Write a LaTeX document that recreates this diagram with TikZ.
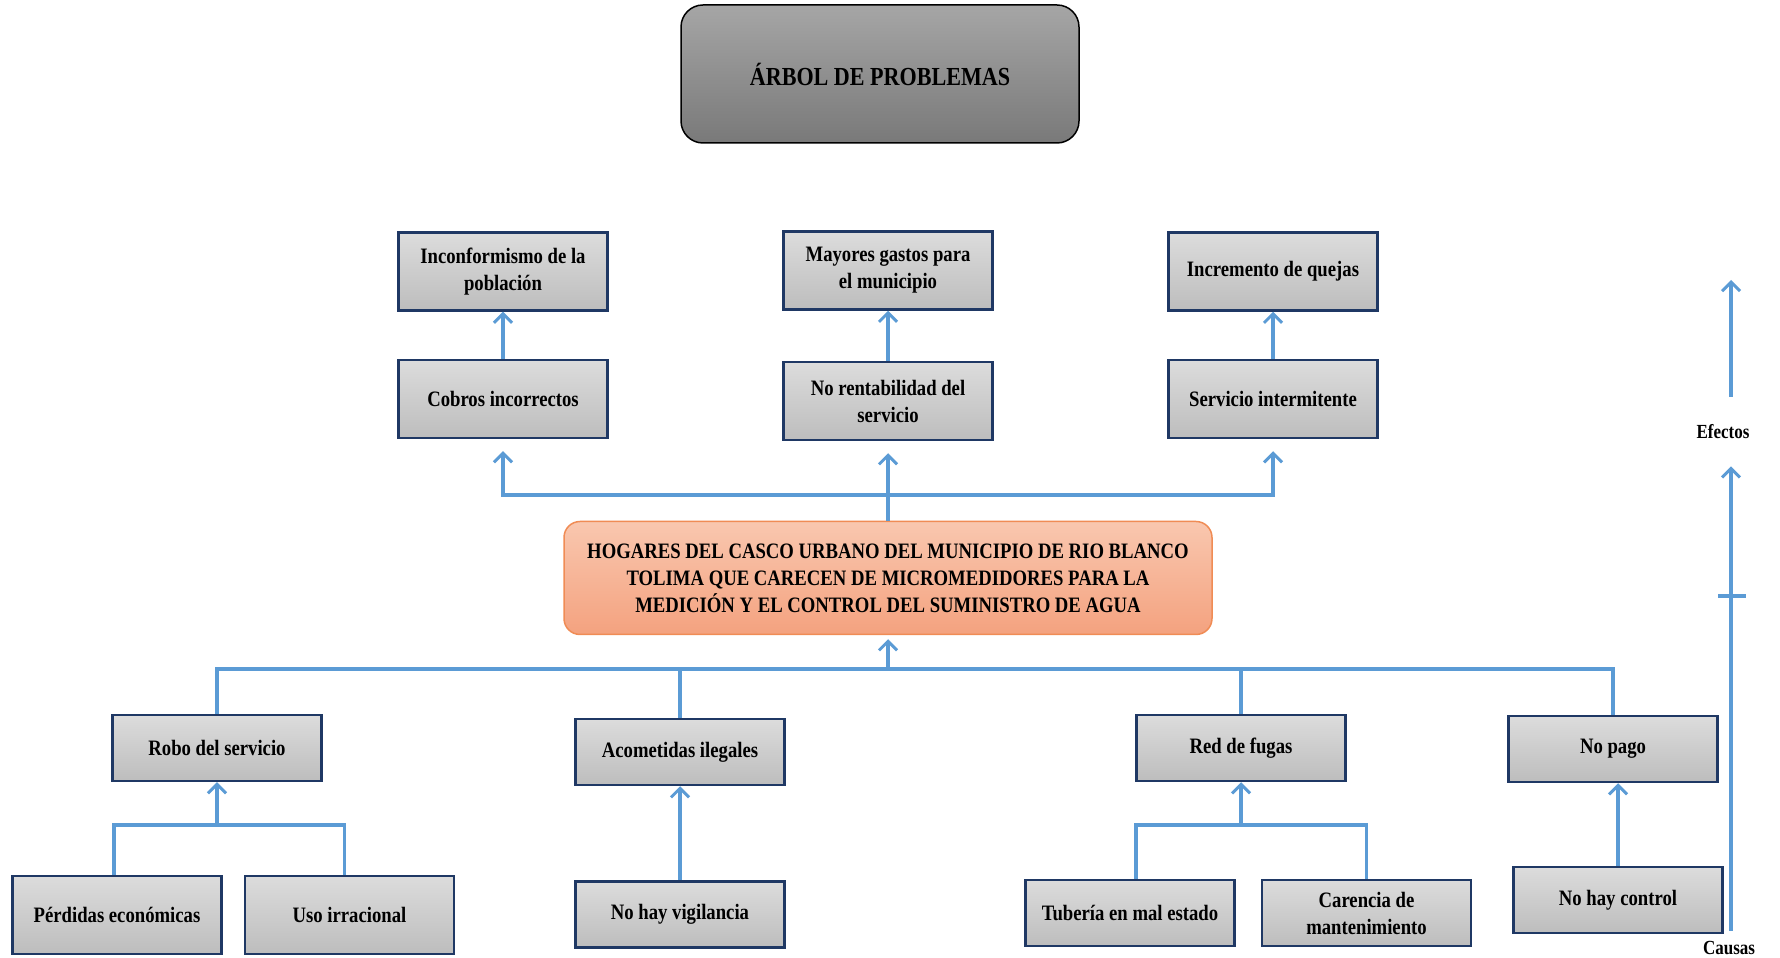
\documentclass[tikz,border=0pt]{standalone}
\usepackage{fontspec}
\setmainfont[FakeStretch=0.85]{Liberation Serif}
\usetikzlibrary{positioning}
\usetikzlibrary{arrows.meta}
\usetikzlibrary{calc}

\definecolor{navy}{HTML}{1F3864}
\definecolor{linkblue}{HTML}{5B9BD5}
\definecolor{boxtop}{HTML}{DCDCDC}
\definecolor{boxbot}{HTML}{BDBDBD}
\definecolor{probdraw}{HTML}{F08C55}
\definecolor{probtop}{HTML}{F9C7AF}
\definecolor{probbot}{HTML}{F4A27F}

\tikzset{
  box/.style={draw=navy, line width=2.5pt, top color=boxtop, bottom color=boxbot,
    minimum width=209pt, minimum height=78pt, align=center, inner sep=2pt,
    font=\bfseries\fontsize{22}{27}\selectfont},
  lowbox/.style={box, minimum height=66pt},
  link/.style={linkblue, line width=3.5pt},
  linkarrow/.style={link, -{Straight Barb[length=9pt,width=18pt,line width=3pt]}},
  axislabel/.style={font=\bfseries\fontsize{20}{23}\selectfont, inner sep=1pt},
}

\begin{document}
\begin{tikzpicture}[x=1pt, y=1pt]
   \useasboundingbox (0,0) rectangle (1780,958);

   % titulo
   \node[draw=black, line width=1.5pt, rounded corners=22pt, top color=gray!70,
      bottom color=gray!100!white!95!black, minimum width=398pt, minimum height=138pt,
      font=\bfseries\fontsize{26}{30}\selectfont] (titulo) at (880,884) {ÁRBOL DE PROBLEMAS};

   % problema central
   \node[draw=probdraw, line width=1.5pt, rounded corners=16pt, top color=probtop,
      bottom color=probbot, minimum width=648pt, minimum height=113pt, align=center,
      font=\bfseries\fontsize{22}{27}\selectfont] (problema) at (888,380)
      {HOGARES DEL CASCO URBANO DEL MUNICIPIO DE RIO BLANCO\\
       TOLIMA QUE CARECEN DE MICROMEDIDORES PARA LA\\
       MEDICIÓN Y EL CONTROL DEL SUMINISTRO DE AGUA};

   % efectos
   \node[box] (cobros) at (503,559) {Cobros incorrectos};
   \node[box] (norent) at (888,557) {No rentabilidad del\\ servicio};
   \node[box] (interm) at (1273,559) {Servicio intermitente};
   \node[box, above=47pt of cobros] (inconf) {Inconformismo de la\\ población};
   \node[box, above=50pt of norent] (gastos) {Mayores gastos para\\ el municipio};
   \node[box, above=47pt of interm] (quejas) {Incremento de quejas};

   % causas
   \node[lowbox] (robo) at (217,210) {Robo del servicio};
   \node[lowbox] (acomet) at (680,206) {Acometidas ilegales};
   \node[lowbox] (fugas) at (1241,210) {Red de fugas};
   \node[lowbox] (nopago) at (1613,209) {No pago};

   \node[box] (perdidas) at (117,43) {Pérdidas económicas};
   \node[box, right=21pt of perdidas] (uso) {Uso irracional};
   \node[lowbox, below=94pt of acomet] (vigil) {No hay vigilancia};
   \node[lowbox] (tuberia) at (1130,45) {Tubería en mal estado};
   \node[lowbox, right=25pt of tuberia] (carencia) {Carencia de\\ mantenimiento};
   \node[lowbox] (control) at (1618,58) {No hay control};

   % conectores
   \coordinate (ebar) at (888,463);
   \coordinate (cbar) at (888,289);
   \coordinate (rbar) at (217,133);
   \coordinate (fbar) at (1241,133);

   \draw[link] (problema.north) -- (ebar);
   \draw[linkarrow, shorten >=12pt] (ebar) -- (norent.south);
   \draw[linkarrow, shorten >=12pt] (ebar) -| (cobros.south);
   \draw[linkarrow, shorten >=12pt] (ebar) -| (interm.south);
   \draw[linkarrow] (cobros.north) -- (inconf.south);
   \draw[linkarrow] (norent.north) -- (gastos.south);
   \draw[linkarrow] (interm.north) -- (quejas.south);

   \draw[link] (robo.north) |- (cbar) -| (nopago.north);
   \draw[link] (acomet.north) -- (acomet.north |- cbar);
   \draw[link] (fugas.north) -- (fugas.north |- cbar);
   \draw[linkarrow, shorten >=4pt] (cbar) -- (problema.south);

   \draw[link] ([xshift=-3pt]perdidas.north) |- (rbar) -| ([xshift=-5pt]uso.north);
   \draw[linkarrow] (rbar) -- (robo.south);
   \draw[linkarrow] (vigil.north) -- (acomet.south);
   \draw[link] ([xshift=6pt]tuberia.north) |- (fbar) -| (carencia.north);
   \draw[linkarrow] (fbar) -- (fugas.south);
   \draw[linkarrow] (control.north) -- (control.north |- nopago.south);

   % eje causas - efectos
   \node[axislabel] (efectos) at (1723,526) {Efectos};
   \node[axislabel] (causas) at (1729,10) {Causas};
   \coordinate (axlo) at (1731,27);
   \coordinate (axtick) at (1731,362);
   \coordinate (axhi) at (1731,561);
   \draw[linkarrow] (axlo) -- (efectos.south -| axlo) [shorten >=26pt];
   \draw[linkarrow] (axhi) -- ++(0,117);
   \draw[link] ([xshift=-13pt]axtick) -- ([xshift=15pt]axtick);
\end{tikzpicture}
\end{document}
